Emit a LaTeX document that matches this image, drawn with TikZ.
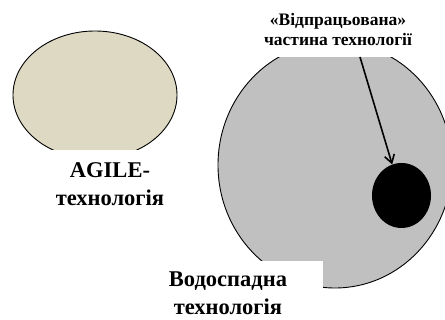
\documentclass[tikz,border=0pt]{standalone}
\usepackage{fontspec}
\setmainfont{Liberation Serif}
\usetikzlibrary{arrows.meta,shapes.geometric}
\definecolor{agilefill}{HTML}{DDD9C3}
\definecolor{wfgrey}{HTML}{C0C0C0}
\tikzset{
  blob/.style={ellipse,draw=black,line width=.9pt,inner sep=0pt},
  lbl/.style ={fill=white,align=center,font=\bfseries\fontsize{22.5}{28}\selectfont},
  slbl/.style={fill=white,align=center,font=\bfseries\fontsize{17.5}{20}\selectfont},
  ar/.style  ={-{Straight Barb[length=8pt,width=10pt]},line width=1.6pt},
}
\begin{document}
\begin{tikzpicture}[x=1pt,y=-1pt]
  \useasboundingbox (0,0) rectangle (445,320);
  % agile
  \node[blob,fill=agilefill,minimum width=164pt,minimum height=128pt] (agile) at (95,95) {};
  \node[lbl,anchor=north,inner xsep=30pt,inner ysep=12pt] (agilelbl) at (110,150) {AGILE-\\технологія};
  % waterfall
  \node[blob,fill=wfgrey,minimum width=234pt,minimum height=246pt] (wf) at (335,165) {};
  \node[ellipse,fill=black,inner sep=0pt,minimum width=59pt,minimum height=65pt] (used) at (401.5,195.5) {};
  \node[slbl,anchor=south,inner xsep=6pt,inner ysep=11pt] (usedlbl) at (338,57) {«Відпрацьована»\\частина технології};
  \node[lbl,anchor=north,inner xsep=36pt,inner ysep=11pt] (wflbl) at (228,261) {Водоспадна\\технологія};
  \draw[ar] ([xshift=22pt]usedlbl.south) -- (used);
\end{tikzpicture}
\end{document}
